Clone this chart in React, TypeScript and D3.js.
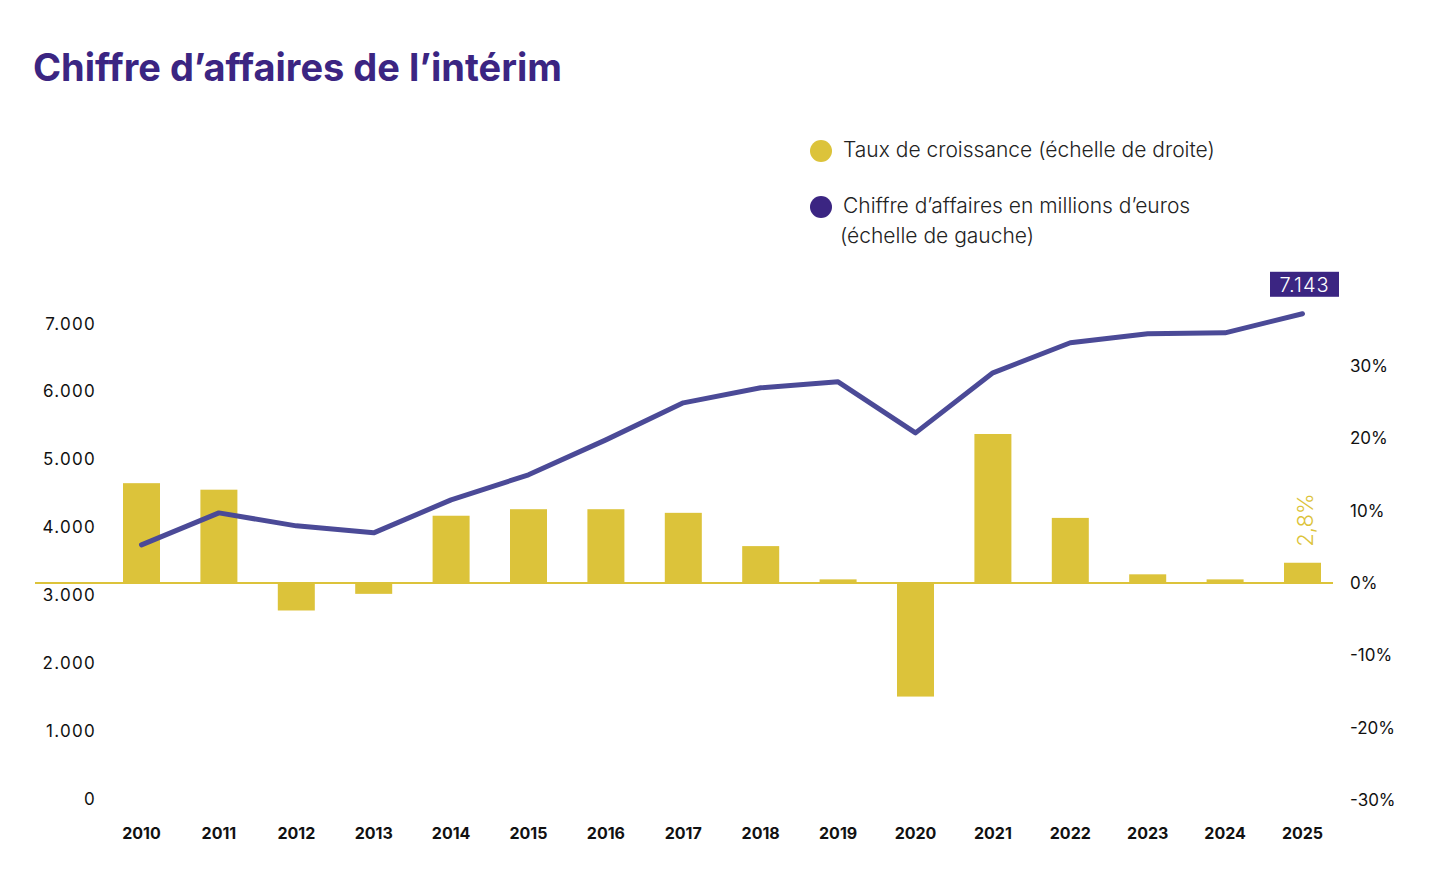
import React from "react";
import * as d3 from "d3";

const years = ["2010","2011","2012","2013","2014","2015","2016","2017","2018","2019","2020","2021","2022","2023","2024","2025"];
const growth = [13.8, 12.9, -3.8, -1.5, 9.3, 10.2, 10.2, 9.7, 5.1, 0.5, -15.7, 20.6, 9.0, 1.2, 0.5, 2.8];
const revenue = [3741, 4212, 4021, 3918, 4404, 4772, 5287, 5832, 6053, 6141, 5390, 6274, 6716, 6848, 6863, 7143];
const leftTicks = [0, 1000, 2000, 3000, 4000, 5000, 6000, 7000];
const rightTicks = [-30, -20, -10, 0, 10, 20, 30];

const YELLOW = "#dcc33a";
const LINE = "#4b4a97";
const PURPLE = "#3b2582";
const FONT = "Inter, 'Liberation Sans', Arial, sans-serif";

export default function App() {
  const W = 1434, H = 872;
  const x = d3.scalePoint<string>().domain(years).range([141.5, 1302.5]);
  const yL = d3.scaleLinear().domain([0, 7000]).range([799, 323.5]);
  const yR = d3.scaleLinear().domain([-30, 30]).range([800, 366]);
  const barW = 37;
  const fmtL = (v: number) => d3.format(",")(v).replace(/,/g, ".");
  const line = d3.line<number>().x((_, i) => x(years[i])!).y(d => yL(d));
  const last = years.length - 1;
  const lx = x(years[last])!;
  const ly = yL(revenue[last]);

  return (
    <svg width={W} height={H} style={{ position: "absolute", left: 0, top: 0, background: "#fff" }} fontFamily={FONT}>
      <text x={33} y={81} fontSize={38} fontWeight={700} fill={PURPLE}>Chiffre d’affaires de l’intérim</text>

      {/* legend */}
      <circle cx={821} cy={151} r={11} fill={YELLOW} />
      <text x={843} y={157} fontSize={21} fontWeight={300} fill="#222">Taux de croissance (échelle de droite)</text>
      <circle cx={821} cy={207} r={11} fill={PURPLE} />
      <text x={843} y={213} fontSize={21} fontWeight={300} fill="#222">Chiffre d’affaires en millions d’euros</text>
      <text x={840} y={243} fontSize={21} fontWeight={300} fill="#222">(échelle de gauche)</text>

      {/* left axis */}
      {leftTicks.map(t => (
        <text key={"l" + t} x={96} y={yL(t)} fontSize={17} fill="#111" textAnchor="end" dominantBaseline="central" letterSpacing={1.3}>{fmtL(t)}</text>
      ))}
      {/* right axis */}
      {rightTicks.map(t => (
        <text key={"r" + t} x={1350} y={yR(t)} fontSize={17} fill="#111" textAnchor="start" dominantBaseline="central">{t + "%"}</text>
      ))}

      {/* bars */}
      {growth.map((g, i) => (
        <rect key={"b" + i} x={x(years[i])! - barW / 2} width={barW}
          y={Math.min(yR(0), yR(g))} height={Math.abs(yR(g) - yR(0))} fill={YELLOW} />
      ))}
      <line x1={35} x2={1333} y1={yR(0)} y2={yR(0)} stroke={YELLOW} strokeWidth={2} />

      {/* line */}
      <path d={line(revenue)!} fill="none" stroke={LINE} strokeWidth={5} strokeLinejoin="round" strokeLinecap="round" />

      {/* last value label */}
      <rect x={lx - 32.5} y={ly - 42} width={69} height={25} fill={PURPLE} />
      <text x={lx + 2} y={ly - 29} fontSize={20} fontWeight={300} fill="#fff" textAnchor="middle" dominantBaseline="central" letterSpacing={1}>{fmtL(revenue[last])}</text>

      <text transform={`translate(${x(years[last])! + 10},${yR(growth[last]) - 16}) rotate(-90)`} fontSize={22} fontWeight={300} fill={YELLOW}>{"2,8%"}</text>

      {/* x axis */}
      {years.map(y => (
        <text key={"x" + y} x={x(y)!} y={833} fontSize={16} fontWeight={700} fill="#111" textAnchor="middle" dominantBaseline="central">{y}</text>
      ))}
    </svg>
  );
}
